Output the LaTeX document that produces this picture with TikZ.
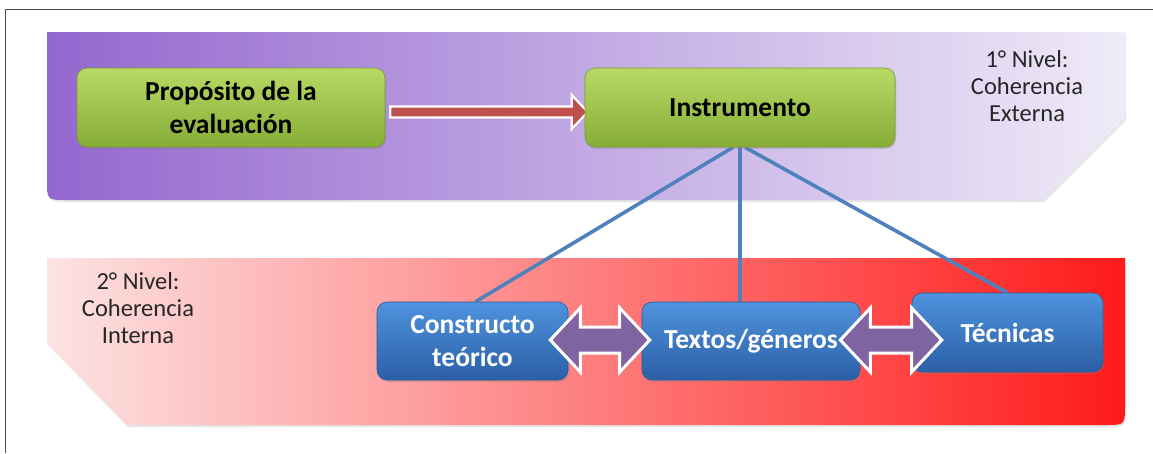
\documentclass[tikz,border=0pt]{standalone}
\usepackage{fontspec}
\setmainfont{Carlito}
\usetikzlibrary{calc,shadows}
\definecolor{purL}{HTML}{9467CF}
\definecolor{purM}{HTML}{B39DDB}
\definecolor{purR}{HTML}{EFEBF8}
\definecolor{redL}{HTML}{FDE3E3}
\definecolor{redM}{HTML}{F9A3A3}
\definecolor{redR}{HTML}{FF1A1A}
\definecolor{grnT}{HTML}{B8DA64}
\definecolor{grnB}{HTML}{86AD36}
\definecolor{grnD}{HTML}{7A9A34}
\definecolor{bluT}{HTML}{4F93DE}
\definecolor{bluB}{HTML}{2B5FA6}
\definecolor{bluD}{HTML}{2A5A9A}
\definecolor{lineblue}{HTML}{4F81BD}
\definecolor{arrred}{HTML}{C0504D}
\definecolor{arrpur}{HTML}{8064A2}
\pgfdeclarelayer{back}
\pgfdeclarelayer{mid}
\pgfsetlayers{back,mid,main}
\tikzset{
  boxtext/.style={font=\fontsize{27.5}{33}\selectfont\bfseries, align=center},
  greenbox/.style={boxtext, rounded corners=10pt, top color=grnT, bottom color=grnB, draw=grnD, line width=0.6pt, text=black,
    drop shadow={shadow xshift=1pt, shadow yshift=-2pt, opacity=0.3}},
  bluebox/.style={boxtext, rounded corners=10pt, top color=bluT, bottom color=bluB, draw=bluD, line width=0.6pt, text=white,
    drop shadow={shadow xshift=1pt, shadow yshift=-2pt, opacity=0.3}},
  leveltext/.style={font=\fontsize{24.5}{27}\selectfont, align=center, text=black!85},
  conn/.style={draw=lineblue, line width=3.6pt},
  dblarr/.style={fill=arrpur, draw=white, line width=3pt, line join=miter,
    drop shadow={shadow xshift=1pt, shadow yshift=-1.5pt, opacity=0.25}},
  redarr/.style={fill=arrred, draw=white, line width=2.2pt, line join=miter,
    drop shadow={shadow xshift=1pt, shadow yshift=-1.5pt, opacity=0.25}},
  bandshadow/.style={drop shadow={shadow xshift=1pt, shadow yshift=-2pt, opacity=0.2}}
}
\begin{document}
\begin{tikzpicture}[x=1pt,y=-1pt]
\useasboundingbox (0,0) rectangle (1153,453);

% nodes
\node[greenbox, minimum width=308pt, minimum height=79pt] (prop) at (231,107.5) {Propósito de la\\evaluación};
\node[greenbox, minimum width=310pt, minimum height=79pt] (instr) at (740,107.5) {Instrumento};
\node[bluebox, minimum width=191pt, minimum height=78pt] (cons) at (472.5,341) {Constructo\\teórico};
\node[bluebox, minimum width=218pt, minimum height=78pt] (tex) at (751,341) {Textos/géneros};
\node[bluebox, minimum width=191pt, minimum height=79pt] (tec) at (1007.5,332.5) {Técnicas};

\node[leveltext] (lev1) at (1027,86) {1° Nivel:\\Coherencia\\Externa};
\node[leveltext] (lev2) at (138,308) {2° Nivel:\\Coherencia\\Interna};

\begin{pgfonlayer}{back}
  \fill[white] (0,0) rectangle (1153,453);
  \draw[black!70, line width=0.8pt] (5,453) -- (5,9) -- (1153,9);
  \shade[left color=purL, middle color=purM, right color=purR, bandshadow]
    (47,32) -- (1125,32) -- (1125,118) -- (1043,200) -- (67,200)
    .. controls (47,200) .. (47,180) -- cycle;
  \shade[left color=redL, middle color=redM, right color=redR, bandshadow]
    (47,258) -- (1125,258) -- (1125,405)
    .. controls (1125,425) .. (1105,425) -- (127,425) -- (47,343) -- cycle;
\end{pgfonlayer}

\begin{pgfonlayer}{mid}
  \draw[conn] ([xshift=-7pt]instr.south) -- ([xshift=3pt]cons.north);
  \draw[conn] (instr.south) -- ([xshift=-11pt]tex.north);
  \draw[conn] ([xshift=5pt]instr.south) -- (tec.north);

  % red block arrow
  \coordinate (ra1) at ($(prop.east)+(5,4.5)$);
  \coordinate (ra2) at ($(instr.west)+(3,4.5)$);
  \draw[redarr] ($(ra1)+(0,-5.5)$) -- ($(ra2)+(-16,-5.5)$) -- ($(ra2)+(-16,-17)$) -- (ra2)
    -- ($(ra2)+(-16,17)$) -- ($(ra2)+(-16,5.5)$) -- ($(ra1)+(0,5.5)$) -- cycle;
\end{pgfonlayer}

% purple double arrows
\coordinate (d1l) at ($(cons.east)+(-18,-1)$);
\coordinate (d1r) at ($(tex.west)+(8,-1)$);
\coordinate (d2l) at ($(tex.east)+(-20,-1)$);
\coordinate (d2r) at ($(d2l -| tec.west)+(30,0)$);
\foreach \l/\r in {d1l/d1r, d2l/d2r}{
  \draw[dblarr] (\l) -- ($(\l)+(30,-32)$) -- ($(\l)+(30,-13)$) -- ($(\r)+(-30,-13)$)
    -- ($(\r)+(-30,-32)$) -- (\r) -- ($(\r)+(-30,32)$) -- ($(\r)+(-30,13)$)
    -- ($(\l)+(30,13)$) -- ($(\l)+(30,32)$) -- cycle;
}
\end{tikzpicture}
\end{document}
